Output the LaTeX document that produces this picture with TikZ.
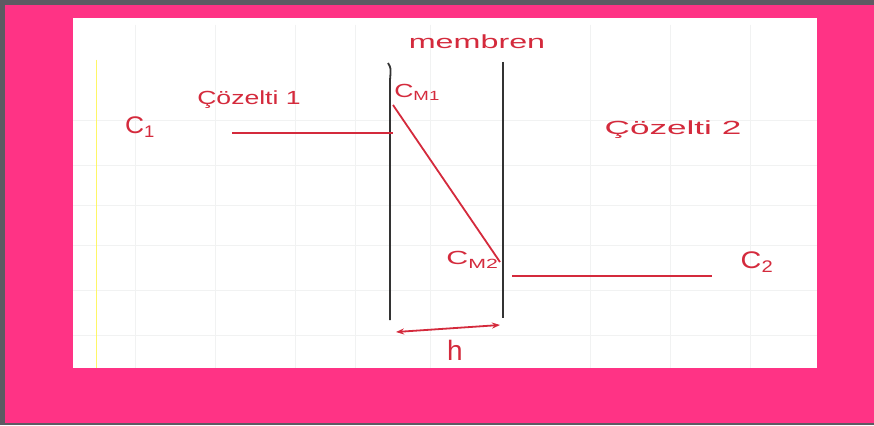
\documentclass[tikz,border=0pt]{standalone}
\usepackage{fontspec}
\setmainfont{Liberation Sans}
\usetikzlibrary{arrows.meta}
\definecolor{pinkbg}{HTML}{FF3385}
\definecolor{frame}{HTML}{5E5A62}
\definecolor{ink}{HTML}{D42A3C}
\definecolor{gridc}{HTML}{F1F2F2}
\tikzset{
  lbl/.style={text=ink, inner sep=0pt, font=\fontsize{19}{19}\selectfont},
  big/.style={text=ink, inner sep=0pt, font=\fontsize{24}{24}\selectfont},
  redline/.style={draw=ink, line width=1.8pt},
  wall/.style={draw=black!80, line width=1.8pt},
}
\begin{document}
\begin{tikzpicture}[x=1pt,y=-1pt]
\useasboundingbox (0,0) rectangle (874,425);
\fill[frame] (0,0) rectangle (874,425);
\fill[pinkbg] (5,5) rectangle (874,423);
\fill[white] (73,18) rectangle (817,368);
% faint grid
\foreach \x in {135,215,295,355,430,590,670,750} \draw[gridc, line width=0.8pt] (\x,25) -- (\x,368);
\foreach \y in {120,165,205,245,290,335} \draw[gridc, line width=0.8pt] (73,\y) -- (817,\y);
% yellow margin line
\draw[yellow!60!white, line width=1pt] (96,60) -- (96,368);
% membrane walls
\draw[wall] (388,63) .. controls (391,68) .. (390,80) -- (390,320);
\draw[wall] (503,62) -- (503,318);
% labels
\node[lbl, xscale=1.7] (mem) at (477,42) {membren};
\node[big, xscale=1.1] (c1) at (140,127) {C\textsubscript{1}};
\node[lbl, xscale=1.4] (sol1) at (249,100) {Çözelti 1};
\node[lbl, anchor=west, xscale=1.4] (cm1) at (394,92) {C\textsubscript{M1}};
\node[lbl, xscale=1.85] (sol2) at (673,130) {Çözelti 2};
\node[lbl, anchor=east, xscale=1.6] (cm2) at (499,260) {C\textsubscript{M2}};
\node[big, xscale=1.2] (c2) at (757,262) {C\textsubscript{2}};
\node[lbl, font=\fontsize{28}{28}\selectfont] (h) at (455,350) {h};
% concentration profile
\coordinate (a1) at (232,133);
\coordinate (a2) at (393,133);
\coordinate (d1) at (393,105);
\coordinate (d2) at (500,262);
\coordinate (b1) at (512,276);
\coordinate (b2) at (712,276);
\coordinate (h1) at (396,332);
\coordinate (h2) at (500,325);
\draw[redline] (a1) -- (a2);
\draw[redline] (d1) -- (d2);
\draw[redline] (b1) -- (b2);
\draw[redline, {Stealth[length=8pt]}-{Stealth[length=8pt]}] (h1) -- (h2);
\end{tikzpicture}
\end{document}
